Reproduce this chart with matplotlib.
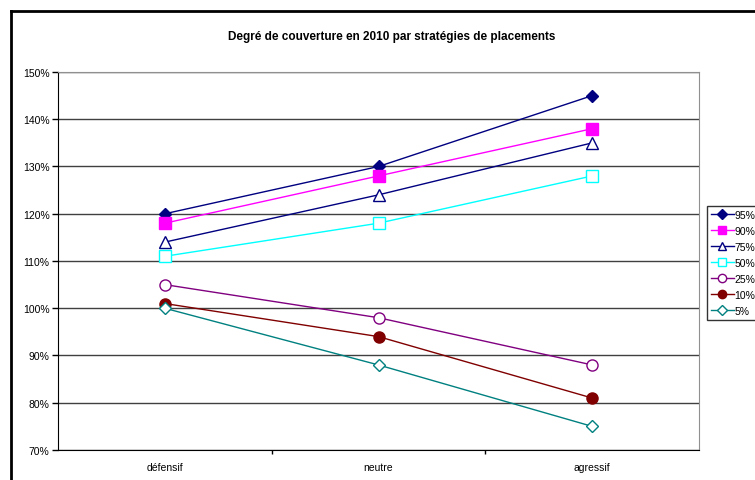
import numpy as np
import matplotlib.pyplot as plt
from matplotlib.lines import Line2D

plt.rcParams['font.family'] = ['Liberation Sans', 'DejaVu Sans']

strategies = ["défensif", "neutre", "agressif"]
quantiles = ["95%", "90%", "75%", "50%", "25%", "10%", "5%"]
p95 = [120, 130, 145]
p90 = [118, 128, 138]
p75 = [114, 124, 135]
p50 = [111, 118, 128]
p25 = [105, 98, 88]
p10 = [101, 94, 81]
p05 = [100, 88, 75]

series = [p95, p90, p75, p50, p25, p10, p05]
colors = ["#000080", "#FF00FF", "#000080", "#00FFFF", "#800080", "#800000", "#008080"]
markers = ["D", "s", "^", "s", "o", "o", "D"]
filled = [True, True, False, False, False, True, False]
sizes = [6.5, 8, 8, 8, 8, 8, 6.5]

fig = plt.figure(figsize=(7.55, 4.81), dpi=100)
ax = fig.add_axes([58 / 755, 1 - 451 / 481, 641 / 755, 378 / 481])

x = np.arange(len(strategies))
for vals, lab, c, m, f, s in zip(series, quantiles, colors, markers, filled, sizes):
    ax.plot(x, vals, color=c, lw=1, marker=m, ms=s,
            markerfacecolor=c if f else "white", markeredgecolor=c,
            markeredgewidth=1, label=lab, zorder=3)

ax.set_xlim(-0.5, 2.5)
ax.set_ylim(70, 150)
ax.set_yticks(range(70, 151, 10))
ax.set_yticklabels([f"{v}%" for v in range(70, 151, 10)], fontsize=7.5)
ax.set_xticks(x)
ax.set_xticklabels(strategies, fontsize=7.5)
ax.tick_params(axis="x", length=0, pad=9)
ax.set_xticks([0.5, 1.5], minor=True)
ax.tick_params(axis="x", which="minor", length=3, width=1, direction="out")
ax.tick_params(axis="y", length=4, width=1, direction="out", pad=2)
ax.grid(axis="y", color="#404040", lw=1, zorder=1)

for side in ["top", "right"]:
    ax.spines[side].set_color("#909090")
for side in ["left", "bottom"]:
    ax.spines[side].set_color("black")

fig.text(392 / 755, 1 - 37 / 481, "Degré de couverture en 2010 par stratégies de placements",
         ha="center", va="center", fontsize=8.5, fontweight="bold")

leg = fig.legend(loc="upper left", bbox_to_anchor=(707 / 755, 1 - 207 / 481),
                 fontsize=7.5, frameon=True, fancybox=False, edgecolor="black",
                 handlelength=2.2, handletextpad=0.1, borderpad=0.35,
                 labelspacing=0.58, borderaxespad=0, markerscale=0.75)
leg.get_frame().set_linewidth(1)

# outer chart border
fig.add_artist(Line2D([10.5 / 755, 10.5 / 755], [0, 1 - 11.5 / 481], color="black", lw=2))
fig.add_artist(Line2D([10.5 / 755, 1], [1 - 11.5 / 481, 1 - 11.5 / 481], color="black", lw=2))

fig.savefig("out.png", dpi=100)
